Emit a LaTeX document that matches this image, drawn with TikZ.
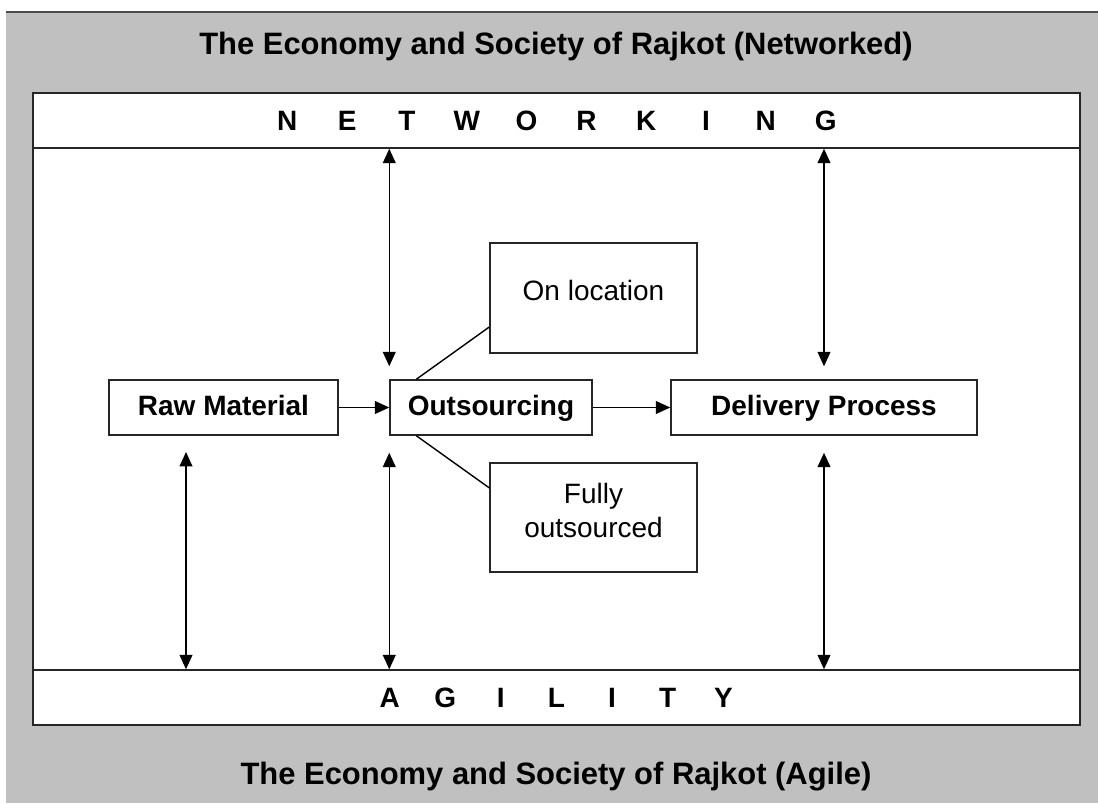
\documentclass[tikz,border=0pt]{standalone}
\usepackage{fontspec}
\setmainfont{Liberation Sans}
\usetikzlibrary{arrows.meta}
\definecolor{panelgray}{HTML}{C0C0C0}
\tikzset{
  framed/.style={draw=black!85,line width=1pt,fill=white,inner sep=0pt},
  box/.style={framed,minimum height=1.375cm,text height=0.52cm,text depth=0.14cm,font=\fontsize{19.9}{24}\selectfont\bfseries},
  subbox/.style={framed,minimum width=5.175cm,align=center,font=\fontsize{19.9}{24}\selectfont},
  band/.style={framed,minimum width=26.175cm,minimum height=1.375cm,font=\fontsize{19.9}{24}\selectfont\bfseries},
  heading/.style={font=\fontsize{22}{26}\selectfont\bfseries},
  flow/.style={-{Triangle[length=0.36cm,width=0.32cm]},line width=1pt},
  link/.style={{Triangle[length=0.36cm,width=0.32cm]}-{Triangle[length=0.36cm,width=0.32cm]},line width=1pt},
  branch/.style={line width=1pt}
}
\begin{document}
\begin{tikzpicture}[x=0.025cm,y=-0.025cm]
  \useasboundingbox (0,0) rectangle (1098,803);
  % panel
  \fill[panelgray] (6,12) rectangle (1098,803);
  \draw[black!70,line width=1.2pt] (6,12) -- (1098,12);
  \draw[framed] (33,93) rectangle (1080,725);

  \node[heading] (toptitle) at (556,46) {The Economy and Society of Rajkot (Networked)};
  \node[heading] (bottitle) at (556,777) {The Economy and Society of Rajkot (Agile)};

  % bands
  \node[band] (netband) at (556.5,120.5) {\foreach \c in {N,E,T,W,O,R,K,I,N,G}{\makebox[1.495cm]{\c}}};
  \node[band] (agiband) at (556.5,697.5) {\foreach \c in {A,G,I,L,I,T,Y}{\makebox[1.39cm]{\c}}};

  % process
  \node[box,minimum width=5.725cm] (raw) at (223.5,407.5) {Raw Material};
  \node[box,minimum width=5.05cm] (out) at (491,407.5) {Outsourcing};
  \node[box,minimum width=7.65cm] (del) at (824,407.5) {Delivery Process};

  \node[subbox,minimum height=2.75cm,text depth=0.4cm] (onloc) at (593.5,298) {On location};
  \node[subbox,minimum height=2.725cm,text depth=0.37cm] (full) at (593.5,517.5) {Fully\\outsourced};

  \draw[flow] (raw) -- (out);
  \draw[flow] (out) -- (del);
  \draw[branch] ([xshift=0.675cm]out.north west) -- ([yshift=-0.725cm]onloc.west);
  \draw[branch] ([xshift=0.675cm]out.south west) -- ([yshift=0.74cm]full.west);

  % links to the bands
  \coordinate (rawfoot) at (186,452);
  \draw[link] (netband.south -| out.west) -- ([yshift=0.325cm]out.north west);
  \draw[link] (netband.south -| del.north) -- ([yshift=0.325cm]del.north);
  \draw[link] (rawfoot) -- (rawfoot |- agiband.north);
  \draw[link] ([yshift=-0.425cm]out.south west) -- (out.south west |- agiband.north);
  \draw[link] ([yshift=-0.425cm]del.south) -- (del.south |- agiband.north);
\end{tikzpicture}
\end{document}
